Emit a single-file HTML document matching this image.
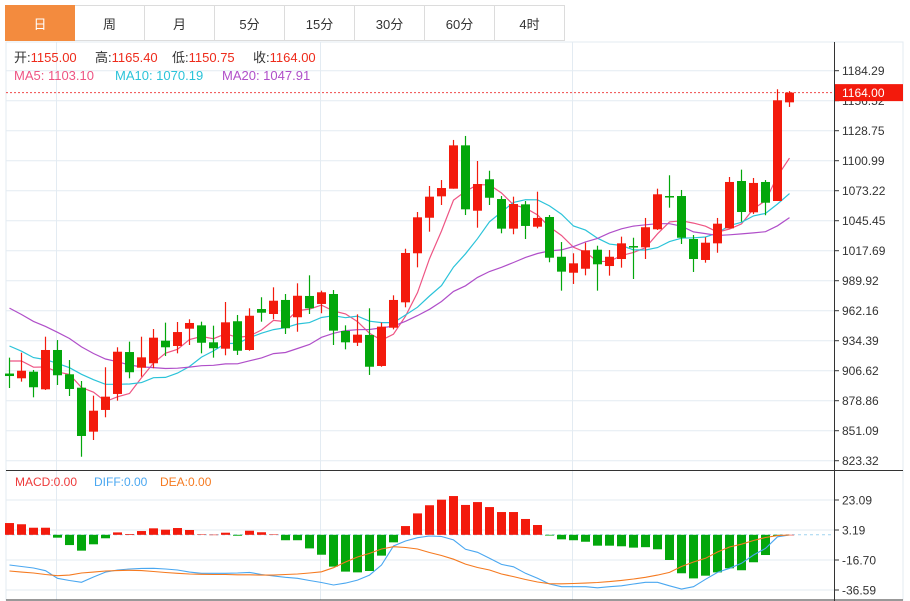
<!DOCTYPE html>
<html><head><meta charset="utf-8">
<style>
html,body{margin:0;padding:0;background:#fff;width:910px;height:601px;overflow:hidden;font-family:"Liberation Sans","Noto Sans CJK SC",sans-serif;}
.tabs{position:absolute;left:5px;top:5px;height:37px;display:flex;}
.tab{width:70px;height:36px;border:1px solid #dcdcdc;border-left:none;box-sizing:border-box;display:flex;align-items:center;justify-content:center;font-size:13px;color:#333;font-family:"Liberation Sans","Noto Sans CJK SC",sans-serif;}
.tab:first-child{border-left:1px solid #dcdcdc;}
.tab.active{background:#f38b3e;color:#fff;border-color:#f38b3e;}
svg{position:absolute;left:0;top:0;}
</style></head><body>
<div class="tabs">
<div class="tab active">日</div>
<div class="tab">周</div>
<div class="tab">月</div>
<div class="tab">5分</div>
<div class="tab">15分</div>
<div class="tab">30分</div>
<div class="tab">60分</div>
<div class="tab">4时</div>
</div>
<svg id="chart" width="910" height="601" font-family="Liberation Sans, Noto Sans CJK SC, sans-serif">
<g id="grid"></g>
<g id="ma"></g>
<g id="candles"></g>
<g id="macd"></g>
<g id="axis"></g>
<g font-size="13">
<text x="14" y="62" fill="#333">开:<tspan fill="#ee2b1b">1155.00</tspan></text>
<text x="95" y="62" fill="#333">高:<tspan fill="#ee2b1b">1165.40</tspan></text>
<text x="172" y="62" fill="#333">低:<tspan fill="#ee2b1b">1150.75</tspan></text>
<text x="253" y="62" fill="#333">收:<tspan fill="#ee2b1b">1164.00</tspan></text>
<text x="14" y="80" fill="#ee5584">MA5: 1103.10</text>
<text x="115" y="80" fill="#2bc3d9">MA10: 1070.19</text>
<text x="222" y="80" fill="#b04fc9">MA20: 1047.91</text>
</g>
<g font-size="12">
<text x="15" y="486" fill="#ee3a3a">MACD:0.00</text>
<text x="94" y="486" fill="#4aa7f0">DIFF:0.00</text>
<text x="160" y="486" fill="#f57a20">DEA:0.00</text>
</g>
</svg>
<script>
const opens=[904.0,899.6,905.7,889.4,925.8,903.3,890.9,850.2,870.3,885.1,923.9,909.4,913.5,934.4,929.5,945.5,948.6,932.9,927.0,952.4,925.8,963.7,959.1,972.1,956.1,975.8,968.4,977.6,943.4,932.5,939.7,911.0,946.4,969.9,1015.3,1048.2,1068.0,1075.1,1115.2,1054.7,1083.8,1065.5,1038.1,1060.6,1039.9,1048.9,1012.1,997.3,1001.0,1018.6,1003.5,1010.0,1022.0,1020.8,1037.5,1068.3,1068.3,1028.5,1009.1,1024.5,1038.4,1082.2,1053.2,1081.3,1063.7,1155.0];
const highs=[918.7,923.3,907.3,938.1,935.0,916.5,897.1,883.5,909.8,928.3,933.5,938.1,945.2,951.1,951.7,954.2,952.0,948.3,970.2,958.2,964.4,974.6,983.8,977.6,987.5,994.9,980.7,981.3,948.6,958.8,964.4,951.1,976.4,1019.5,1053.5,1077.6,1083.1,1120.2,1123.9,1100.7,1091.7,1068.3,1067.7,1063.7,1072.3,1050.7,1025.7,1015.3,1025.1,1022.3,1018.3,1030.7,1029.7,1048.0,1075.1,1087.5,1073.9,1032.2,1030.1,1048.0,1085.9,1092.7,1085.0,1083.1,1167.1,1165.4];
const lows=[890.6,896.5,882.0,888.8,893.4,883.2,827.0,842.5,863.5,878.9,899.6,901.1,908.9,920.2,922.7,930.4,922.7,918.7,920.9,921.2,925.1,952.0,954.2,940.6,942.7,959.1,959.8,930.4,926.4,929.5,902.7,910.3,944.9,965.3,1002.3,1035.3,1060.0,1075.1,1050.7,1039.0,1060.0,1033.8,1032.9,1028.5,1038.4,1007.0,980.7,986.9,994.9,980.7,994.6,1002.0,991.5,1010.0,1036.9,1057.5,1023.9,998.0,1006.6,1015.8,1038.4,1044.5,1051.7,1050.5,1063.7,1150.75];
const closes=[901.7,906.6,891.3,925.8,902.4,889.7,846.2,869.6,882.6,924.2,905.2,919.0,937.2,928.3,942.4,950.8,932.5,927.4,951.4,925.1,957.5,960.3,971.4,945.9,976.0,964.4,979.2,943.7,932.9,940.0,910.3,947.4,972.1,1015.6,1048.6,1067.7,1075.7,1115.2,1056.0,1079.4,1066.7,1038.1,1060.9,1040.6,1048.0,1011.2,998.3,1006.0,1018.1,1005.1,1012.1,1024.5,1020.8,1039.4,1069.9,1067.1,1029.7,1010.0,1025.1,1042.7,1081.3,1053.5,1080.4,1062.1,1156.9,1164.0];
const priorCloses=[1025,1020,1018,1012,1005,1000,992,985,975,965,955,950,945,937,930,906.6,920,925,924.7];
const macdHist=[7.8,7.0,4.7,4.7,-1.9,-6.8,-10.5,-6.3,-2.3,1.6,0.5,2.5,4.3,3.4,4.5,3.2,0.3,0.1,1.4,-0.6,2.7,1.7,0.2,-3.6,-3.6,-9.0,-13.2,-21.1,-24.4,-24.9,-24.0,-13.8,-5.0,5.8,14.2,19.6,23.3,25.7,19.8,21.7,18.4,15.1,15.1,10.5,6.5,-0.5,-3.0,-3.6,-4.6,-7.2,-7.2,-7.6,-8.5,-8.2,-9.6,-16.7,-25.5,-28.9,-27.1,-24.9,-22.2,-23.5,-18.2,-13.4,-0.7,0.0];
const diffVals=[-20.0,-21.0,-22.0,-23.8,-28.8,-30.3,-31.5,-28.0,-24.7,-23.3,-22.7,-22.3,-22.2,-22.7,-23.3,-24.7,-25.5,-25.5,-25.5,-25.3,-24.9,-26.3,-27.3,-28.2,-28.8,-30.3,-31.6,-33.3,-32.0,-30.0,-26.7,-20.0,-7.4,-4.1,-1.9,-0.8,-1.1,-3.4,-9.6,-11.6,-15.6,-19.6,-21.2,-25.5,-28.8,-32.6,-34.4,-34.4,-34.4,-35.1,-34.4,-33.8,-32.6,-31.5,-31.5,-33.8,-35.9,-34.4,-29.5,-24.9,-22.2,-18.9,-13.4,-9.0,-1.3,-0.1];
const deaVals=[-24.0,-24.7,-25.3,-26.3,-27.1,-26.7,-25.3,-24.7,-24.0,-23.7,-23.5,-23.7,-24.3,-25.0,-25.5,-26.0,-26.2,-26.3,-26.3,-26.5,-26.5,-26.7,-26.7,-26.3,-26.0,-25.3,-24.5,-21.8,-18.0,-14.7,-12.3,-9.4,-7.9,-8.4,-9.4,-11.7,-13.7,-16.2,-19.4,-21.7,-23.3,-26.0,-27.7,-29.6,-31.3,-32.4,-32.5,-32.3,-32.0,-31.6,-31.0,-30.2,-29.3,-28.2,-26.7,-24.9,-21.0,-18.0,-15.6,-11.4,-8.1,-6.2,-3.8,-1.8,-0.5,-0.1];
const priceTicks=[1184.29,1156.52,1128.75,1100.99,1073.22,1045.45,1017.69,989.92,962.16,934.39,906.62,878.86,851.09,823.32];
const macdTicks=[23.09,3.19,-16.70,-36.59];
const lastPrice=1164.00;

const NS='http://www.w3.org/2000/svg';
const RED='#f31a0c',GREEN='#03a70b',GRID='#e3ebf2';
function mk(tag,attrs,parent){const e=document.createElementNS(NS,tag);for(const k in attrs)e.setAttribute(k,attrs[k]);parent.appendChild(e);return e;}
const xAt=i=>9.5+12*i;
const yP=v=>310.7-(v-962.16)*30/27.766;
const yM=v=>530-(v-3.19)*30/19.89;

const grid=document.getElementById('grid');
// panel borders
let e;
e=mk('rect',{x:6,y:42,width:897,height:558,fill:'none',stroke:'#e3ebf2'},grid);


priceTicks.forEach(t=>{
  e=mk('line',{x1:6,x2:835,y1:yP(t),y2:yP(t),stroke:GRID},grid);
  
  
});
macdTicks.forEach(t=>{
  e=mk('line',{x1:6,x2:835,y1:yM(t),y2:yM(t),stroke:GRID},grid);
  
  
});
[56.5,320.5,572.5].forEach(x=>{
  e=mk('line',{x1:x,x2:x,y1:42,y2:600,stroke:GRID},grid);
  
  
});
// last price dotted line
e=mk('line',{x1:6,x2:835,y1:yP(lastPrice),y2:yP(lastPrice),stroke:'#f04a4a','stroke-dasharray':'2,2'},grid);



// moving averages
const allC=priorCloses.concat(closes);
function ma(n){const out=[];for(let i=0;i<closes.length;i++){const k=i+priorCloses.length;let s=0;for(let j=k-n+1;j<=k;j++)s+=allC[j];out.push(s/n);}return out;}
const maG=document.getElementById('ma');
[[5,'#ee5584','ma5-line'],[10,'#2bc3d9','ma10-line'],[20,'#b04fc9','ma20-line']].forEach(([n,c,name])=>{
  const v=ma(n);
  e=mk('polyline',{points:v.map((p,i)=>xAt(i)+','+yP(p).toFixed(1)).join(' '),fill:'none',stroke:c,'stroke-width':1.2},maG);
  
  
});

// candles
const cg=document.getElementById('candles');
closes.forEach((c,i)=>{
  const o=opens[i],up=c>=o,col=up?RED:GREEN,x=xAt(i);
  const g=mk('g',{},cg);
  
  
  mk('line',{x1:x,x2:x,y1:yP(highs[i]),y2:yP(lows[i]),stroke:col,'stroke-width':1.2},g);
  const top=yP(Math.max(o,c)),bot=yP(Math.min(o,c));
  mk('rect',{x:x-4.5,y:top,width:9,height:Math.max(1.5,bot-top),fill:col},g);
});

// MACD
const mg=document.getElementById('macd');
e=mk('line',{x1:6,x2:835,y1:yM(0),y2:yM(0),stroke:'#9fd3ef','stroke-dasharray':'3,3'},mg);


macdHist.forEach((v,i)=>{
  const y0=yM(0),y1=yM(v);
  e=mk('rect',{x:xAt(i)-4.5,y:Math.min(y0,y1),width:9,height:Math.max(0.5,Math.abs(y1-y0)),fill:v>=0?RED:GREEN},mg);
  
  
});
e=mk('polyline',{points:diffVals.map((v,i)=>xAt(i)+','+yM(v).toFixed(1)).join(' '),fill:'none',stroke:'#4aa7f0','stroke-width':1.1},mg);


e=mk('polyline',{points:deaVals.map((v,i)=>xAt(i)+','+yM(v).toFixed(1)).join(' '),fill:'none',stroke:'#f57a20','stroke-width':1.1},mg);



// axes
const ag=document.getElementById('axis');
mk('line',{x1:834.5,x2:834.5,y1:42,y2:601,stroke:'#333'},ag);
mk('line',{x1:6,x2:903,y1:470.5,y2:470.5,stroke:'#333'},ag);
mk('line',{x1:6,x2:903,y1:600,y2:600,stroke:'#333'},ag);
priceTicks.forEach(t=>{
  mk('line',{x1:835,x2:839,y1:yP(t),y2:yP(t),stroke:'#333'},ag);
  e=mk('text',{x:842,y:yP(t)+4.5,'font-size':12,fill:'#333'},ag);
  e.textContent=t.toFixed(2);
  
  
});
macdTicks.forEach(t=>{
  mk('line',{x1:835,x2:839,y1:yM(t),y2:yM(t),stroke:'#333'},ag);
  e=mk('text',{x:842,y:yM(t)+4.5,'font-size':12,fill:'#333'},ag);
  e.textContent=t.toFixed(2);
  
  
});
e=mk('rect',{x:835,y:yP(lastPrice)-8.5,width:68,height:17,fill:'#f31a0c'},ag);


e=mk('text',{x:842,y:yP(lastPrice)+4.5,'font-size':12,fill:'#fff'},ag);
e.textContent=lastPrice.toFixed(2);


</script>
</body></html>
